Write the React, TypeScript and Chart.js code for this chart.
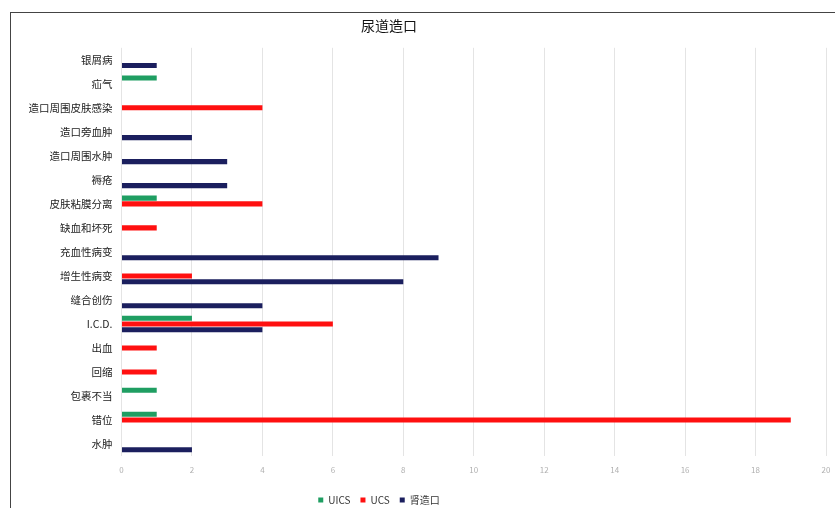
import React, { useEffect, useRef } from "react";
import { Chart, registerables } from "chart.js";

Chart.register(...registerables);

const categories = [
  "银屑病",
  "疝气",
  "造口周围皮肤感染",
  "造口旁血肿",
  "造口周围水肿",
  "褥疮",
  "皮肤粘膜分离",
  "缺血和坏死",
  "充血性病变",
  "增生性病变",
  "缝合创伤",
  "I.C.D.",
  "出血",
  "回缩",
  "包裹不当",
  "错位",
  "水肿",
];

const uicsValues = [null, 1, null, null, null, null, 1, null, null, null, null, 2, null, null, 1, 1, null];
const ucsValues = [null, null, 4, null, null, null, 4, 1, null, 2, null, 6, 1, 1, null, 19, null];
const nephValues = [1, null, null, 2, 3, 3, null, null, 9, 8, 4, 4, null, null, null, null, 2];

const seriesNames = ["UICS", "UCS", "肾造口"];
const seriesColors = ["#1f9e62", "#ff1010", "#1b1f5e"];
const chartTitle = "尿道造口";
const xMin = 0;
const xMax = 20;
const xStep = 2;

const FONT = "'Noto Sans CJK SC', 'Noto Sans', sans-serif";

export default function App() {
  const canvasRef = useRef<HTMLCanvasElement | null>(null);

  useEffect(() => {
    if (!canvasRef.current) return;
    const shiftPlugin = {
      id: "shiftBlocks",
      afterLayout(chart: any) {
        const t = chart.titleBlock;
        if (t) {
          const d = 389 - (t.left + t.right) / 2;
          t.left += d;
          t.right += d;
        }
        const l = chart.legend;
        if (l) {
          const d = 379 - (l.left + l.right) / 2;
          l.left += d;
          l.right += d;
          l.top += 7;
          l.bottom += 7;
        }
      },
    };
    const chart = new Chart(canvasRef.current, {
      type: "bar",
      data: {
        labels: categories,
        datasets: [
          { label: seriesNames[0], data: uicsValues, backgroundColor: seriesColors[0] },
          { label: seriesNames[1], data: ucsValues, backgroundColor: seriesColors[1] },
          { label: seriesNames[2], data: nephValues, backgroundColor: seriesColors[2] },
        ],
      },
      options: {
        indexAxis: "y",
        animation: false,
        responsive: false,
        maintainAspectRatio: false,
        datasets: {
          bar: {
            categoryPercentage: 0.72,
            barPercentage: 0.88,
          },
        },
        layout: { padding: { left: 10, right: 9, top: 0, bottom: 0 } },
        scales: {
          x: {
            min: xMin,
            max: xMax,
            ticks: {
              stepSize: xStep,
              padding: 1,
              color: "#b0b0b0",
              font: { family: FONT, size: 8 },
            },
            grid: {
              color: "#e4e4e4",
              lineWidth: 1,
              drawTicks: true,
              tickLength: 8,
              tickColor: "rgba(0,0,0,0)",
            },
            border: { display: false },
            afterFit: (scale: any) => {
              scale.height = 22;
            },
          },
          y: {
            ticks: {
              padding: 9,
              color: "#222222",
              font: { family: FONT, size: 10.5 },
            },
            grid: { display: false, drawTicks: false },
            border: { display: false },
            afterFit: (scale: any) => {
              scale.width = 111.5;
            },
          },
        },
        plugins: {
          title: {
            display: true,
            text: chartTitle,
            color: "#111111",
            font: { family: FONT, size: 14, weight: "normal" },
            padding: { top: 17, bottom: 14 },
          },
          legend: {
            position: "bottom",
            labels: {
              boxWidth: 5,
              boxHeight: 5,
              padding: 10,
              color: "#333333",
              font: { family: FONT, size: 10 },
            },
          },
          tooltip: { enabled: false },
        },
      },
      plugins: [shiftPlugin],
    } as any);
    return () => chart.destroy();
  }, []);

  return (
    <div style={{ position: "absolute", left: 0, top: 0, width: 835, height: 508, background: "#ffffff", overflow: "hidden" }}>
      <canvas ref={canvasRef} width={835} height={508} style={{ position: "absolute", left: 0, top: 0, width: 835, height: 508 }} />
      <div
        style={{
          position: "absolute",
          left: 10,
          top: 12,
          width: 840,
          height: 510,
          borderTop: "1px solid #444444",
          borderLeft: "1px solid #444444",
          pointerEvents: "none",
        }}
      />
    </div>
  );
}
